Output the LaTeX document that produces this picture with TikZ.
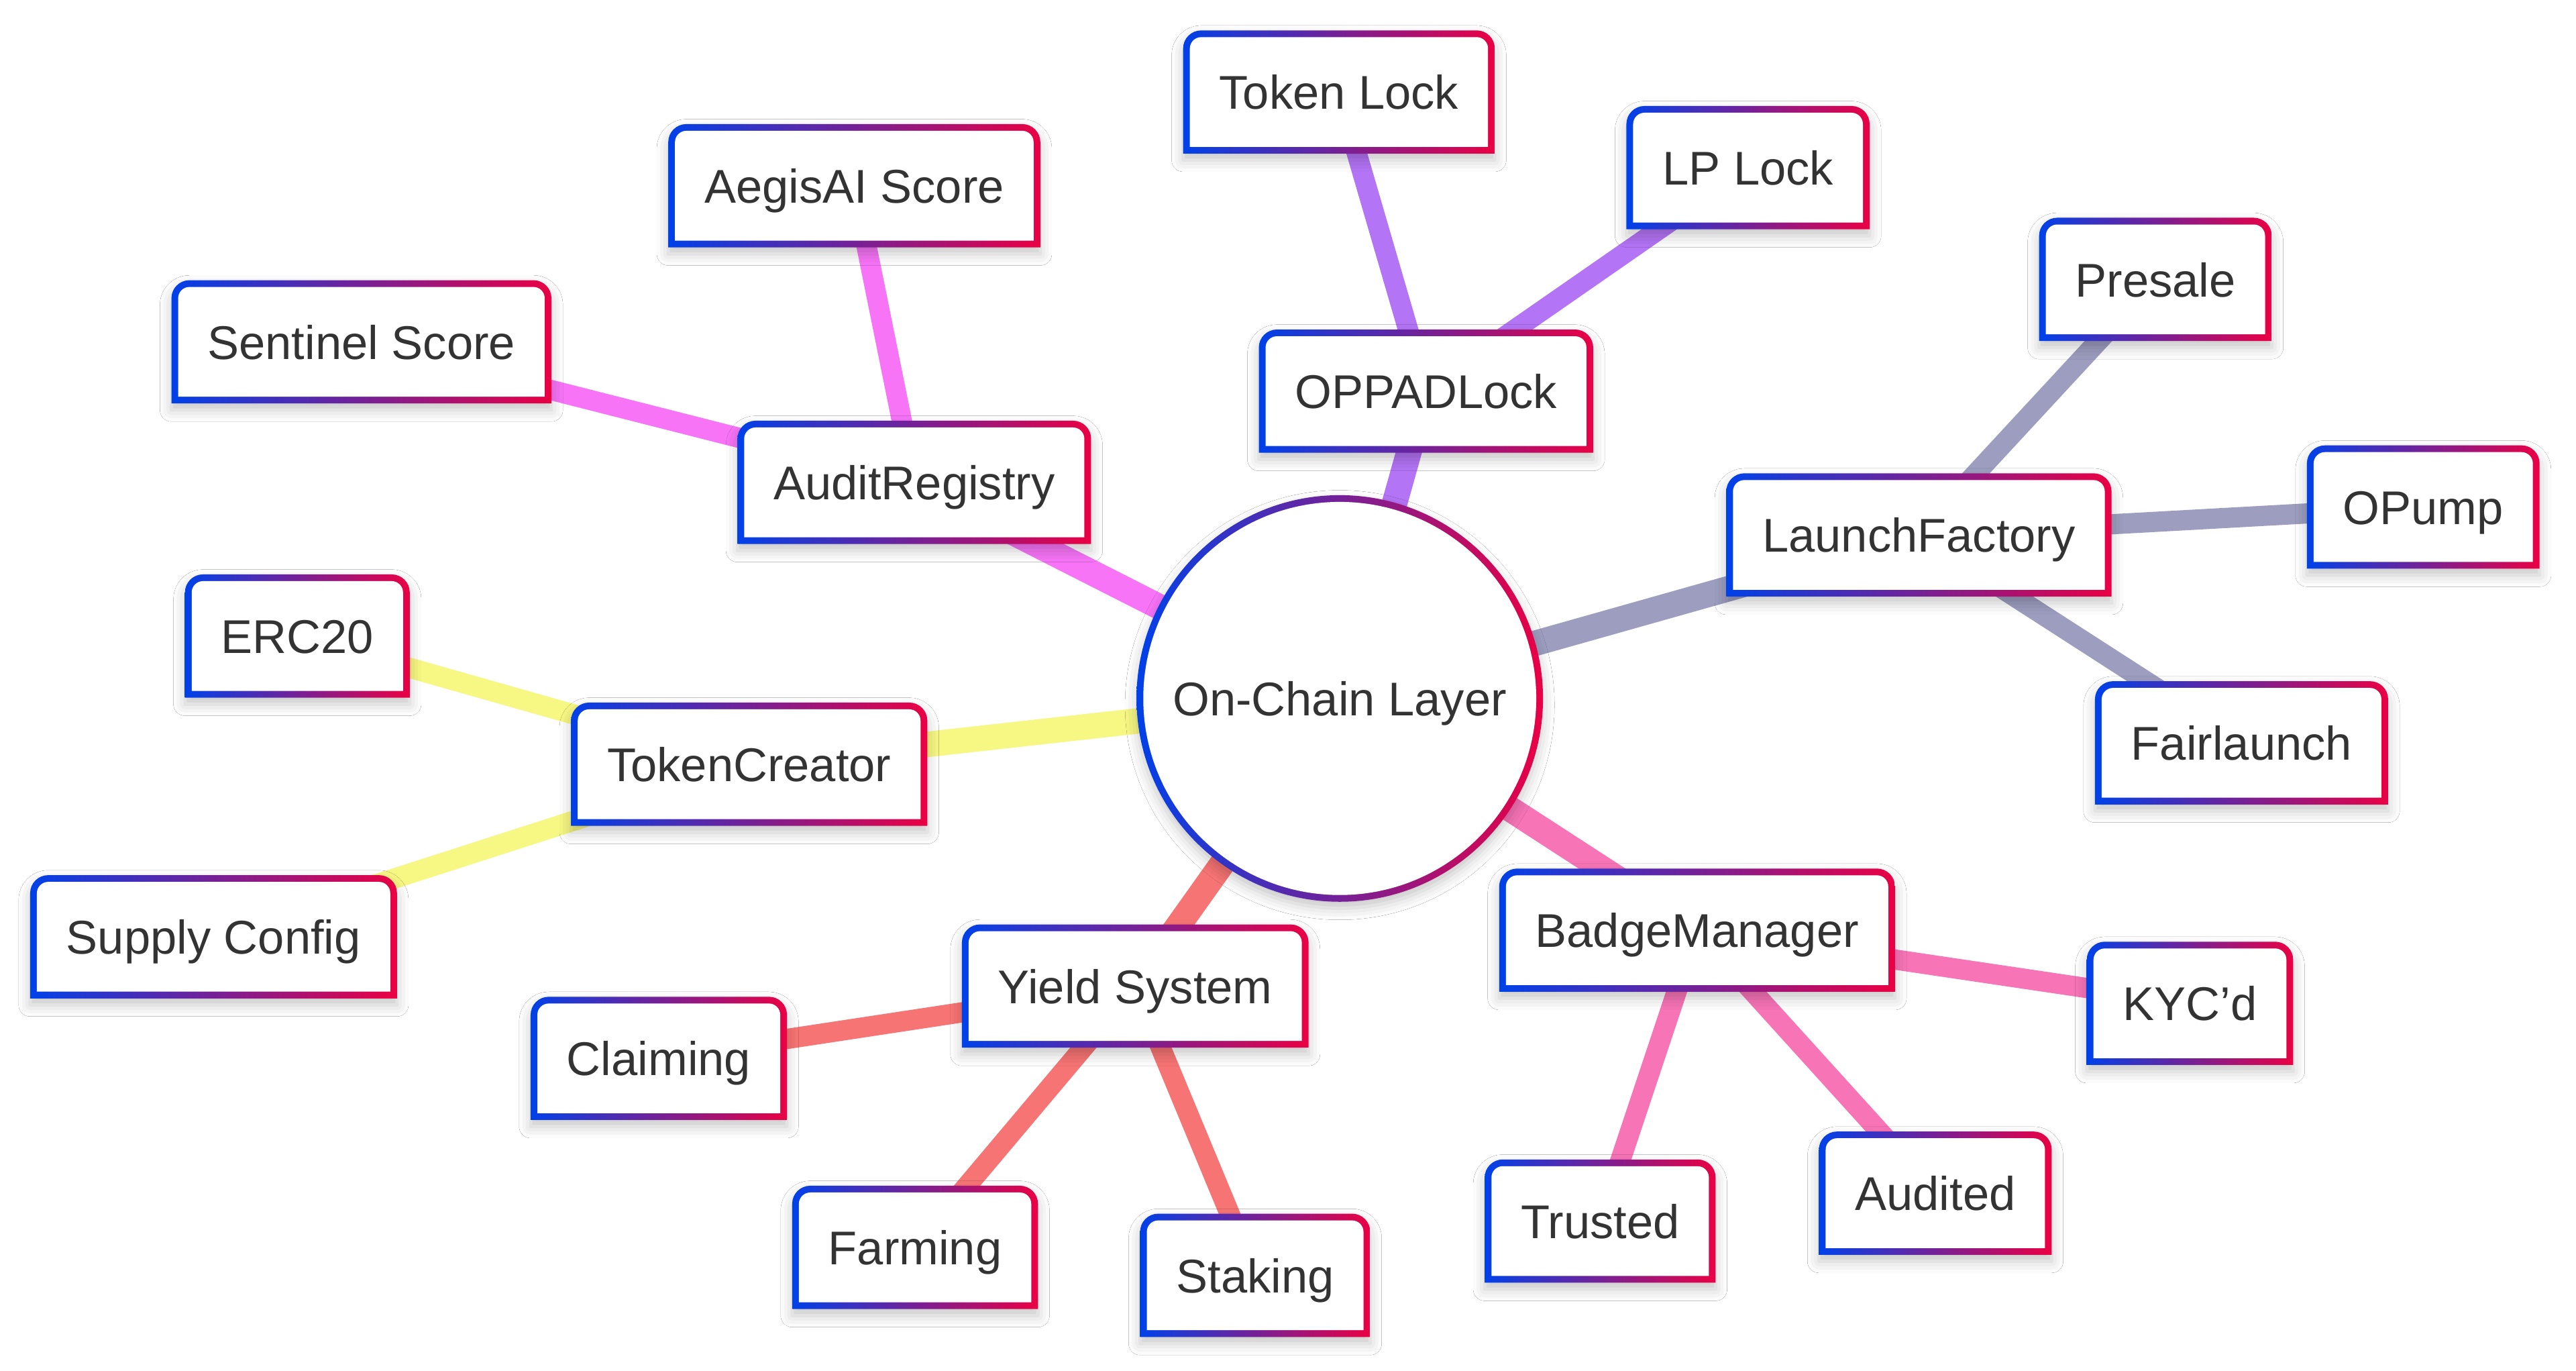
\documentclass[tikz,border=0pt]{standalone}
\usepackage{fontspec}
\setmainfont{Liberation Sans}
\usepackage{tikz}
\usetikzlibrary{shadows,shadows.blur}

\definecolor{gblue}{HTML}{0041E9}
\definecolor{gred}{HTML}{EA0044}
\definecolor{txtgray}{HTML}{333333}
\definecolor{cpink}{HTML}{F774F7}
\definecolor{cviolet}{HTML}{B374F5}
\definecolor{cslate}{HTML}{9D9DC0}
\definecolor{crose}{HTML}{F774B7}
\definecolor{csalmon}{HTML}{F77474}
\definecolor{cyellow}{HTML}{F7F783}

\pgfdeclarelayer{edges}
\pgfdeclarelayer{boxes}
\pgfsetlayers{edges,boxes,main}

\begin{document}
\begin{tikzpicture}[x=1pt, y=-1pt,
	basic/.style = {font=\fontsize{28.8}{34}\selectfont, text=txtgray, inner sep=0pt, outer sep=0pt, text height=21pt, text depth=0pt},
	root/.style  = {basic, circle, minimum size=247.4pt},
	leaf/.style  = {basic, rectangle, minimum height=75pt, inner xsep=22pt},
	edge 1/.style = {line width=15.5pt},
	edge 2/.style = {line width=12.3pt},
	soft/.style  = {blur shadow={shadow xshift=0pt, shadow yshift=-4pt, shadow blur radius=7pt, shadow opacity=22}}]

	\useasboundingbox (0,0) rectangle (1568,834);

	% centre of the map
	\node[root] (root) at (815.5,425) {On-Chain Layer};

	% first ring, children of the centre
	\node[leaf] (audit)   at (556.5,293.5) {AuditRegistry};
	\node[leaf] (oppad)   at (868,238)     {OPPADLock};
	\node[leaf] (launch)  at (1168,325.5)  {LaunchFactory};
	\node[leaf] (badge)   at (1033,566)    {BadgeManager};
	\node[leaf] (yield)   at (691,600)     {Yield System};
	\node[leaf] (creator) at (456,465)     {TokenCreator};

	% second ring, leaves of every child
	\node[leaf] (sentinel)  at (220,208)    {Sentinel Score};
	\node[leaf] (aegis)     at (520,113)    {AegisAI Score};
	\node[leaf] (tokenlock) at (815,56)     {Token Lock};
	\node[leaf] (lplock)    at (1064,102)   {LP Lock};
	\node[leaf] (presale)   at (1312,170)   {Presale};
	\node[leaf] (opump)     at (1475,308.5) {OPump};
	\node[leaf] (fair)      at (1364.4,452) {Fairlaunch};
	\node[leaf] (kyc)       at (1333,610.5) {KYC’d};
	\node[leaf] (audited)   at (1178,726)   {Audited};
	\node[leaf] (trusted)   at (974,743)    {Trusted};
	\node[leaf] (stake)     at (764,776)    {Staking};
	\node[leaf] (farm)      at (557,759)    {Farming};
	\node[leaf] (claim)     at (401,644)    {Claiming};
	\node[leaf] (supply)    at (130,570)    {Supply Config};
	\node[leaf] (erc)       at (181,387)    {ERC20};

	% frames behind the texts: gradient border, white inside
	\begin{pgfonlayer}{boxes}
	\shade[soft, left color=gblue, right color=gred] (root.center) circle[radius=123.7pt];
	\fill[white] (root.center) circle[radius=119.6pt];
	\foreach \n in {audit,oppad,launch,badge,yield,creator,sentinel,aegis,tokenlock,lplock,presale,opump,fair,kyc,audited,trusted,stake,farm,claim,supply,erc} {
		\shade[soft, left color=gblue, right color=gred]
			([yshift=-11pt]\n.north west) arc[start angle=180, end angle=90, radius=11pt]
			-- ([xshift=-11pt]\n.north east) arc[start angle=90, end angle=0, radius=11pt]
			-- (\n.south east) -- (\n.south west) -- cycle;
		\fill[white]
			([xshift=4.1pt, yshift=-11pt]\n.north west) arc[start angle=180, end angle=90, radius=6.9pt]
			-- ([xshift=-11pt, yshift=-4.1pt]\n.north east) arc[start angle=90, end angle=0, radius=6.9pt]
			-- ([xshift=-4.1pt, yshift=4.1pt]\n.south east) -- ([xshift=4.1pt, yshift=4.1pt]\n.south west) -- cycle;
	}
	\end{pgfonlayer}

	% lines from the centre and from each child to its leaves
	\begin{pgfonlayer}{edges}
	\fill[white] (0,0) rectangle (1568,834);

	\draw[edge 1, cpink]   (root.center) -- (audit.center);
	\draw[edge 1, cviolet] (root.center) -- (oppad.center);
	\draw[edge 1, cslate]  (root.center) -- (launch.center);
	\draw[edge 1, crose]   (root.center) -- (badge.center);
	\draw[edge 1, csalmon] (root.center) -- (yield.center);
	\draw[edge 1, cyellow] (root.center) -- (creator.center);

	\foreach \kid in {sentinel,aegis}
	\draw[edge 2, cpink] (audit.center) -- (\kid.center);

	\foreach \kid in {tokenlock,lplock}
	\draw[edge 2, cviolet] (oppad.center) -- (\kid.center);

	\foreach \kid in {presale,opump,fair}
	\draw[edge 2, cslate] (launch.center) -- (\kid.center);

	\foreach \kid in {kyc,audited,trusted}
	\draw[edge 2, crose] (badge.center) -- (\kid.center);

	\foreach \kid in {stake,farm,claim}
	\draw[edge 2, csalmon] (yield.center) -- (\kid.center);

	\foreach \kid in {supply,erc}
	\draw[edge 2, cyellow] (creator.center) -- (\kid.center);
	\end{pgfonlayer}

\end{tikzpicture}
\end{document}
